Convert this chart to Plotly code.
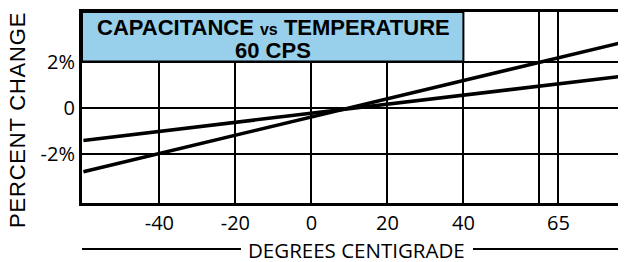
import plotly.graph_objects as go

# ---- data ----
temps = [-60, 85]                 # degrees centigrade (line endpoints)
cap_steep = [-2.75, 2.95]         # percent change, steeper curve
cap_flat = [-1.40, 1.43]          # percent change, flatter curve

x_tick_vals = [-40, -20, 0, 20, 40, 60, 65]
x_tick_text = ["-40", "-20", "0", "20", "40", "", "65"]
y_tick_vals = [-2, 0, 2]
y_tick_text = ["-2%", "0", "2%"]

title_line1 = "CAPACITANCE <span style='font-size:16px'>vs</span> TEMPERATURE"
title_line2 = "60 CPS"

X_RANGE = [-60.37, 80.68]
Y_RANGE = [-4.10, 4.14]

fig = go.Figure()

# title box (between gridlines and traces)
fig.add_shape(type="rect", xref="x", yref="y",
              x0=X_RANGE[0], x1=40, y0=2, y1=Y_RANGE[1],
              fillcolor="#98CFEB", line=dict(color="black", width=2),
              layer="between")

for ys in (cap_steep, cap_flat):
    fig.add_trace(go.Scatter(x=temps, y=ys, mode="lines",
                             line=dict(color="black", width=3.5),
                             showlegend=False, hoverinfo="skip"))

title_font = dict(family="Liberation Sans, Arial, sans-serif",
                  size=22, color="black", weight="bold")
fig.add_annotation(x=-10.1, y=3.48, xref="x", yref="y", text=title_line1,
                   showarrow=False, font=title_font, xanchor="center", yanchor="middle")
fig.add_annotation(x=-10.1, y=2.49, xref="x", yref="y", text=title_line2,
                   showarrow=False, font=title_font, xanchor="center", yanchor="middle")

# y-axis title
fig.add_annotation(x=-0.1194, y=0.4346, xref="paper", yref="paper",
                   text="<span style='letter-spacing:0.8px'>PERCENT CHANGE</span>",
                   textangle=-90, showarrow=False,
                   font=dict(family="Liberation Sans, Arial, sans-serif", size=22, color="black"),
                   xanchor="center", yanchor="middle")

# x-axis title with rules on both sides
fig.add_annotation(x=0.513, y=-0.2435, xref="paper", yref="paper",
                   text="DEGREES CENTIGRADE", showarrow=False,
                   font=dict(family="Open Sans, sans-serif", size=20.5, color="black"),
                   xanchor="center", yanchor="middle")
for x0, x1 in ((0.0, 0.2966), (0.7295, 1.0)):
    fig.add_shape(type="line", xref="paper", yref="paper",
                  x0=x0, x1=x1, y0=-0.2408, y1=-0.2408,
                  line=dict(color="black", width=2))

axis_font = dict(family="Open Sans, sans-serif", size=20, color="black")
fig.update_xaxes(range=X_RANGE, tickvals=x_tick_vals, ticktext=x_tick_text,
                 showgrid=True, gridcolor="black", gridwidth=2, zeroline=False,
                 showline=True, linecolor="black", linewidth=3, mirror=True,
                 ticks="", tickfont=axis_font)
fig.update_yaxes(range=Y_RANGE, tickvals=y_tick_vals, ticktext=y_tick_text,
                 showgrid=True, gridcolor="black", gridwidth=2, zeroline=False,
                 showline=True, linecolor="black", linewidth=3, mirror=False,
                 ticks="", tickfont=axis_font)

# the page body adds an 8px offset; the figure is sized to the visible area
fig.update_layout(width=610, height=254,
                  margin=dict(l=74, r=0, t=4, b=59),
                  paper_bgcolor="white", plot_bgcolor="white")

fig.write_html("out.html")
